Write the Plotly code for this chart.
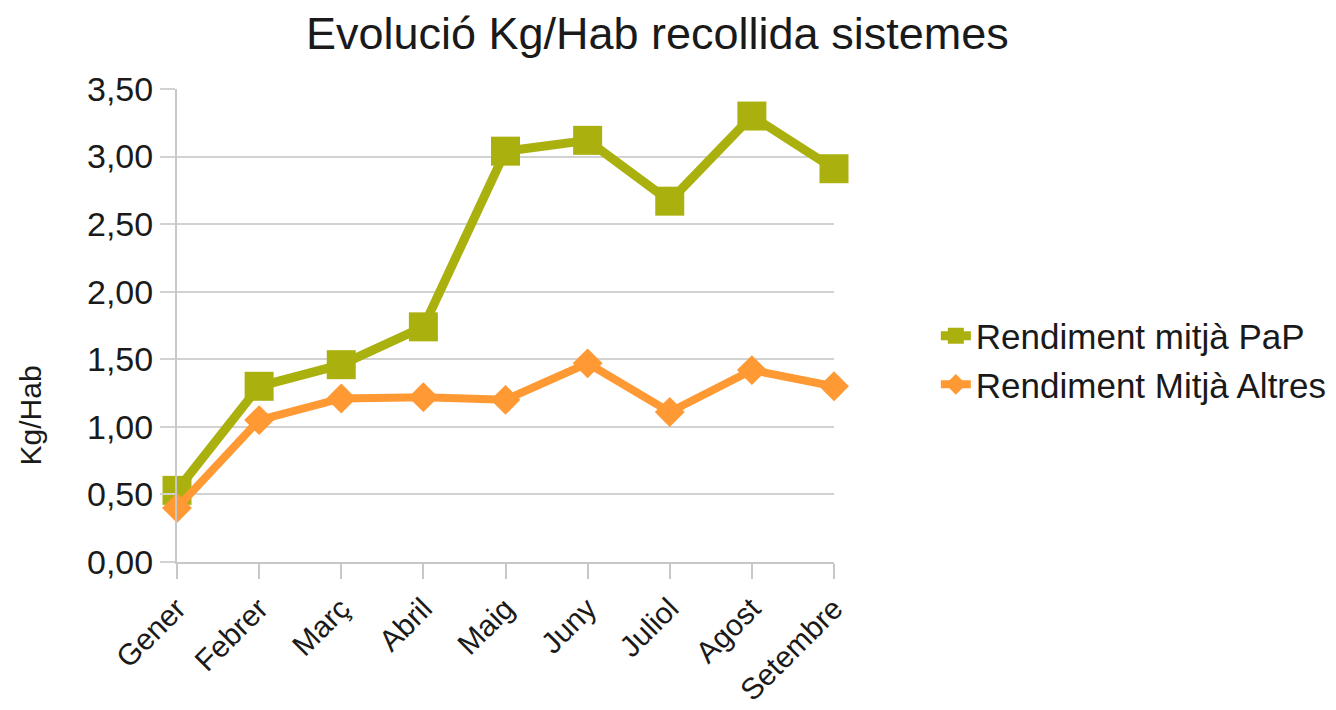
import plotly.graph_objects as go

months = ["Gener", "Febrer", "Març", "Abril", "Maig", "Juny", "Juliol", "Agost", "Setembre"]
pap = [0.53, 1.30, 1.46, 1.74, 3.04, 3.12, 2.67, 3.30, 2.91]
altres = [0.40, 1.05, 1.21, 1.22, 1.20, 1.47, 1.11, 1.42, 1.30]
y_ticks = [0, 0.5, 1.0, 1.5, 2.0, 2.5, 3.0, 3.5]

FONT = "Liberation Sans, Arial, sans-serif"
GREEN = "#aab10f"
ORANGE = "#ff9933"

# page body has an 8px margin: plot area placed so it lands at x 177-836, y 89-562 in the window
L, T, PW, PH = 169, 81, 659, 473

fig = go.Figure()
fig.add_trace(go.Scatter(
    x=months, y=pap, name="Rendiment mitjà PaP", mode="lines+markers",
    line=dict(color=GREEN, width=9),
    marker=dict(symbol="square", size=29, color=GREEN),
    cliponaxis=False,
))
fig.add_trace(go.Scatter(
    x=months, y=altres, name="Rendiment Mitjà Altres", mode="lines+markers",
    line=dict(color=ORANGE, width=8),
    marker=dict(symbol="diamond", size=23, color=ORANGE),
    cliponaxis=False,
))

fig.update_layout(
    width=1336, height=710,
    margin=dict(l=L, r=1336 - L - PW, t=T, b=710 - T - PH),
    paper_bgcolor="white", plot_bgcolor="white",
    separators=",.",
    font=dict(family=FONT, color="#1a1a1a", size=33),
    title=dict(text="Evolució Kg/Hab recollida sistemes", x=0.486, xref="container",
               xanchor="center", y=1 - 25 / 710, yref="container", yanchor="middle",
               font=dict(size=45, family=FONT, color="#1a1a1a")),
    showlegend=True,
    legend=dict(x=1.155, xanchor="left", y=0.427, yanchor="middle",
                font=dict(size=35, family=FONT, color="#1a1a1a"),
                bgcolor="rgba(0,0,0,0)", tracegroupgap=0, itemwidth=30),
)

fig.update_xaxes(
    range=[0, len(months) - 1], showgrid=False, automargin=False,
    showline=True, linecolor="#c8c8c8", linewidth=2,
    ticks="outside", ticklen=15, tickcolor="#c8c8c8", tickwidth=2,
    tickangle=-45, tickfont=dict(size=30, family=FONT, color="#1a1a1a"),
    mirror=False, zeroline=False,
)
fig.update_yaxes(
    range=[0, 3.5], tickvals=y_ticks, tickformat=".2f", automargin=False,
    showgrid=True, gridcolor="#d2d2d2", gridwidth=2,
    showline=True, linecolor="#c8c8c8", linewidth=2,
    ticks="outside", ticklen=15, tickcolor="#d2d2d2", tickwidth=2,
    tickfont=dict(size=34, family=FONT, color="#1a1a1a"),
    zeroline=False,
)

fig.add_annotation(
    text="Kg/Hab", textangle=-90, xref="paper", yref="paper",
    x=(22 - L) / PW, y=(PH + T - 407) / PH, xanchor="center", yanchor="middle",
    showarrow=False, font=dict(size=30, family=FONT, color="#1a1a1a"),
)

fig.write_html("out.html")
